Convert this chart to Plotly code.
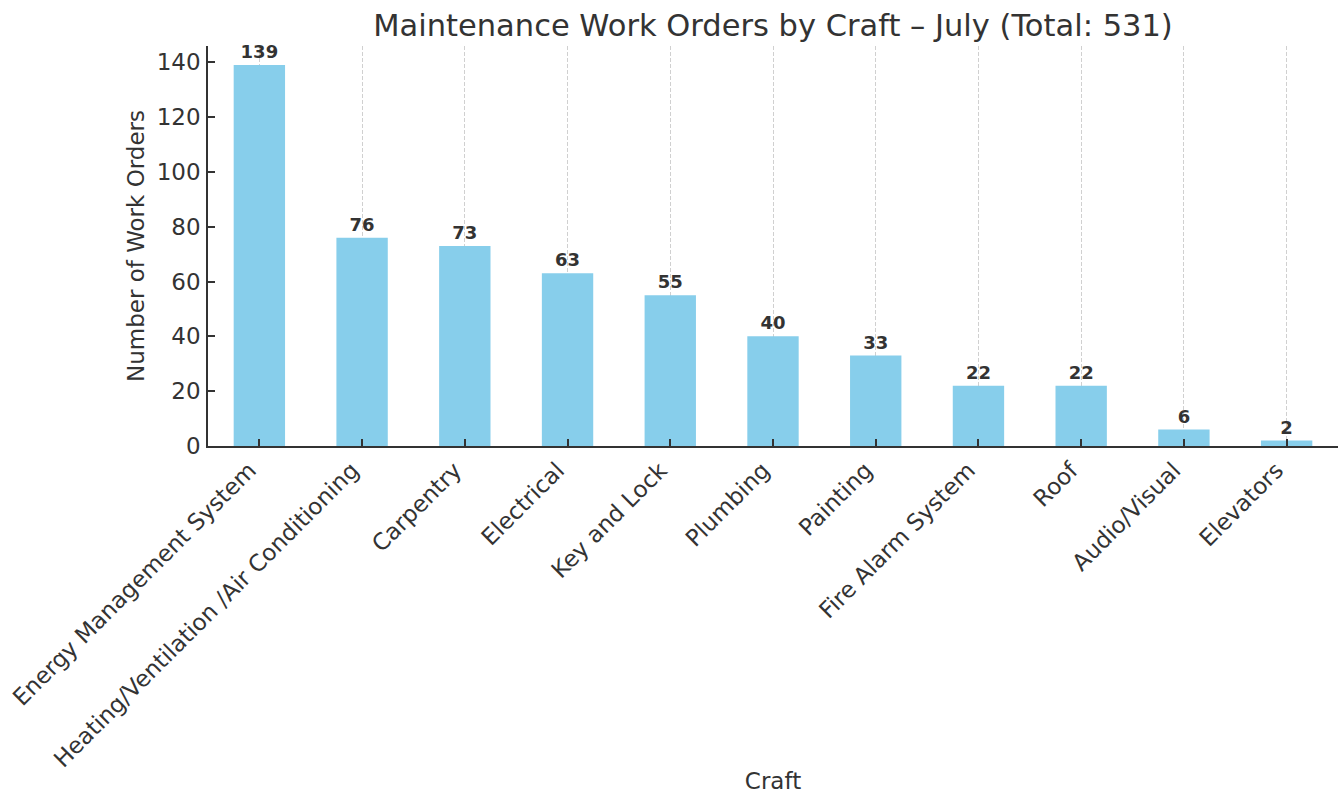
import plotly.graph_objects as go

# Work orders per craft for July
crafts = [
    "Energy Management System",
    "Heating/Ventilation /Air Conditioning",
    "Carpentry",
    "Electrical",
    "Key and Lock",
    "Plumbing",
    "Painting",
    "Fire Alarm System",
    "Roof",
    "Audio/Visual",
    "Elevators",
]
work_orders = [139, 76, 73, 63, 55, 40, 33, 22, 22, 6, 2]
y_ticks = [0, 20, 40, 60, 80, 100, 120, 140]

total = sum(work_orders)
FONT = "DejaVu Sans"
INK = "#333333"

fig = go.Figure(
    go.Bar(
        x=list(range(len(crafts))),
        y=work_orders,
        width=0.5,
        marker=dict(color="#87CEEB", line=dict(width=0)),
        text=[str(v) for v in work_orders],
        textposition="outside",
        textfont=dict(family=FONT, size=18, color=INK, weight="bold"),
        cliponaxis=False,
    )
)

fig.update_layout(
    width=1343,
    height=794,
    paper_bgcolor="white",
    plot_bgcolor="white",
    showlegend=False,
    margin=dict(l=208, r=5, t=46, b=348, autoexpand=False),
    title=dict(
        text=f"Maintenance Work Orders by Craft \u2013 July (Total: {total})",
        font=dict(family=FONT, size=30.5, color=INK),
        x=0.5,
        xref="paper",
        xanchor="center",
        y=0.968,
        yanchor="middle",
    ),
    font=dict(family=FONT, color=INK),
    bargap=0.5,
)

fig.update_xaxes(
    automargin=False,
    range=[-0.5, len(crafts) - 0.5],
    tickmode="array",
    tickvals=list(range(len(crafts))),
    ticktext=crafts,
    tickangle=-45,
    tickfont=dict(family=FONT, size=23, color=INK),
    ticks="inside",
    ticklen=7,
    tickwidth=1.5,
    tickcolor=INK,
    ticklabelstandoff=0,
    ticklabelshift=-10,
    showline=True,
    linecolor=INK,
    linewidth=1.5,
    showgrid=True,
    gridcolor="#d0d0d0",
    gridwidth=1,
    griddash="4px,2px",
    zeroline=False,
    title=dict(text="Craft", font=dict(family=FONT, size=23, color=INK), standoff=14),
)

fig.update_yaxes(
    automargin=False,
    range=[0, max(work_orders) * 1.05],
    tickmode="array",
    tickvals=y_ticks,
    tickfont=dict(family=FONT, size=23, color=INK),
    ticks="inside",
    ticklen=7,
    tickwidth=1.5,
    tickcolor=INK,
    ticklabelstandoff=1,
    showline=True,
    linecolor=INK,
    linewidth=1.5,
    showgrid=False,
    zeroline=False,
    title=dict(text="Number of Work Orders", font=dict(family=FONT, size=23, color=INK), standoff=6),
)

fig.write_html("out.html")
